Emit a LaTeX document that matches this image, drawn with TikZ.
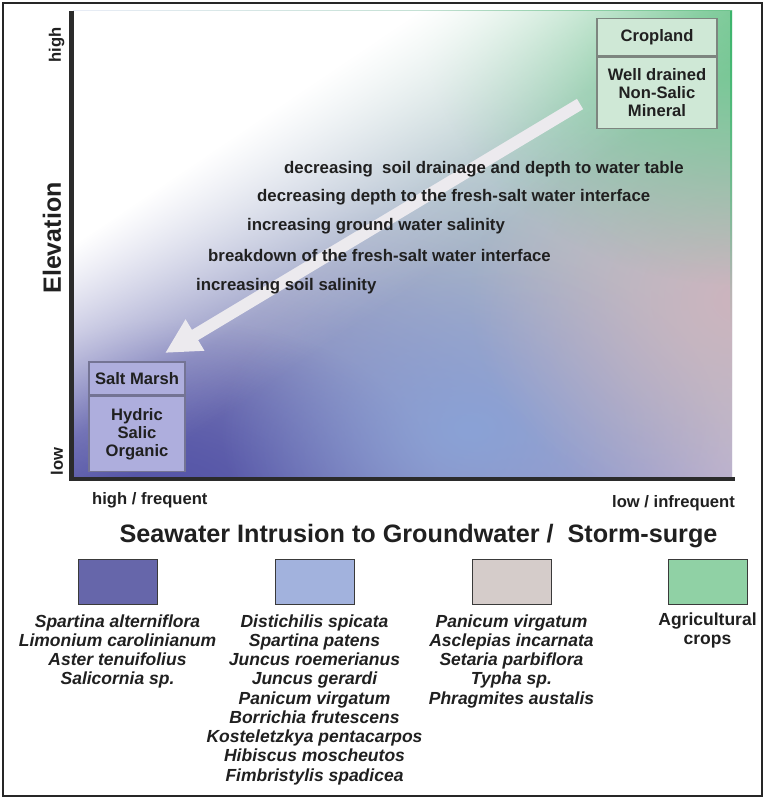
\documentclass[tikz,border=0pt]{standalone}
\usepackage{fontspec}
\setmainfont{Liberation Sans}
\usetikzlibrary{fadings,shadings,arrows.meta}

\definecolor{plUL}{HTML}{E8ECF6}
\definecolor{plUR}{HTML}{A4D6B6}
\definecolor{plLL}{HTML}{5252A4}
\definecolor{plLR}{HTML}{B8B2D2}
\definecolor{darkc}{HTML}{5656A8}
\definecolor{pinkc}{HTML}{CDB4BE}
\definecolor{lbluec}{HTML}{8AA2D6}
\definecolor{greenc}{HTML}{6CC48C}
\definecolor{greenline}{HTML}{3CB46C}
\definecolor{arrowc}{HTML}{ECEAEE}
\definecolor{cropfill}{HTML}{CFE8D6}
\definecolor{cropdraw}{HTML}{7D857F}
\definecolor{marshfill}{HTML}{AEAEDD}
\definecolor{marshdraw}{HTML}{747494}
\definecolor{axisc}{HTML}{2B2B2B}
\definecolor{txtc}{HTML}{202020}
\definecolor{lg1}{HTML}{6666AA}
\definecolor{lg2}{HTML}{A2B2DD}
\definecolor{lg3}{HTML}{D5CCCA}
\definecolor{lg4}{HTML}{90D1A5}
\definecolor{legdraw}{HTML}{3A3A3A}

\pgfdeclarehorizontalshading{wfsh}{100bp}{color(0bp)=(white); color(30bp)=(white); color(37bp)=(black!50); color(42bp)=(black!85); color(47bp)=(black); color(100bp)=(black)}
\pgfdeclarefading{wfade}{\pgfuseshading{wfsh}}
\tikzfading[name=blobfade, inner color=transparent!0, outer color=transparent!100]
\tikzfading[name=fadedown, top color=transparent!0, bottom color=transparent!100]

\tikzset{
  midtxt/.style={font=\fontsize{16.8}{18}\selectfont\bfseries, text=txtc, inner sep=0pt, anchor=base west},
  axtxt/.style={font=\fontsize{16.6}{18}\selectfont\bfseries, text=txtc, inner sep=0pt},
  boxtxt/.style={font=\fontsize{16.6}{18}\selectfont\bfseries, text=txtc, inner sep=0pt, align=center},
  legtxt/.style={font=\fontsize{17.5}{19.25}\selectfont\bfseries\itshape, text=txtc, inner sep=0pt, anchor=base},
  legbox/.style={draw=legdraw, line width=1.3pt, minimum width=79pt, minimum height=45pt, inner sep=0pt, anchor=north west},
  cropbox/.style={boxtxt, draw=cropdraw, fill=cropfill, line width=1.5pt, minimum width=120pt, anchor=north},
  marshbox/.style={boxtxt, draw=marshdraw, fill=marshfill, line width=1.5pt, minimum width=96pt, anchor=north},
  axisline/.style={draw=axisc, line width=4.5pt},
  bigarrow/.style={draw=arrowc, line width=12pt, -{Triangle[length=35pt,width=34pt]}, color=arrowc},
}

\begin{document}
\begin{tikzpicture}[x=1pt,y=-1pt]
\useasboundingbox (0,0) rectangle (765,800);
\fill[white] (0,0) rectangle (765,800);
\draw[line width=1.3pt, black!85] (3,3) rectangle (762,796);

% ---- gradient field ----
\begin{scope}
  \clip (73,11) rectangle (732,477);
  \shade[upper left=plUL, upper right=plUR, lower left=plLL, lower right=plLR] (73,11) rectangle (732,477);
  \fill[darkc, path fading=blobfade] (180,490) ellipse [x radius=260pt, y radius=170pt];
  \fill[lbluec, path fading=blobfade] (470,430) ellipse [x radius=250pt, y radius=180pt];
  \fill[pinkc, path fading=blobfade] (740,300) ellipse [x radius=270pt, y radius=220pt];
  \fill[greenc, path fading=blobfade] (740,5) ellipse [x radius=320pt, y radius=280pt];
  \fill[white, path fading=wfade, fading angle=-56] (73,11) rectangle (736,674);
  \fill[greenline, path fading=fadedown] (729.5,11) rectangle (732,330);
\end{scope}

% ---- axes ----
\coordinate (ytop) at (71.5,11);
\coordinate (ybot) at (71.5,481);
\coordinate (xleft) at (69,479);
\coordinate (xright) at (735,479);
\draw[axisline] (ytop) -- (ybot);
\draw[axisline] (xleft) -- (xright);

% ---- arrow ----
\coordinate (aS) at (580,104);
\coordinate (aE) at (165,353);
\draw[bigarrow] (aS) -- (aE);

% ---- boxes ----
\node[cropbox, minimum height=37pt] (cropT) at (657,18) {Cropland};
\node[cropbox, minimum height=71pt] (cropB) at (cropT.south) {Well drained\\Non-Salic\\Mineral};
\node[marshbox, minimum height=33pt] (marshT) at (137,361) {Salt Marsh};
\node[marshbox, minimum height=75pt] (marshB) at (marshT.south) {Hydric\\Salic\\Organic};

% ---- middle texts ----
\node[midtxt] (t1) at (284,173.3) {decreasing\ \ soil drainage and depth to water table};
\node[midtxt] (t2) at (257,201.7) {decreasing depth to the fresh-salt water interface};
\node[midtxt] (t3) at (247,230.7) {increasing ground water salinity};
\node[midtxt] (t4) at (208,261.7) {breakdown of the fresh-salt water interface};
\node[midtxt] (t5) at (196,290) {increasing soil salinity};

% ---- axis labels ----
\node[axtxt, rotate=90, font=\fontsize{25}{28}\selectfont\bfseries] (elev) at (52,238) {Elevation};
\node[axtxt, rotate=90] (hi) at (56.5,45) {high};
\node[axtxt, rotate=90] (lo) at (57,461.5) {low};
\node[axtxt, anchor=base west] (hf) at (92,504) {high / frequent};
\node[axtxt, anchor=base east] (lf) at (735,507.5) {low / infrequent};
\node[axtxt, anchor=base, font=\fontsize{25.2}{28}\selectfont\bfseries] (xl) at (418.5,542) {Seawater Intrusion to Groundwater /\ \ Storm-surge};

% ---- legend ----
\node[legbox, fill=lg1] (b1) at (78,559) {};
\node[legbox, fill=lg2] (b2) at (275,559) {};
\node[legbox, fill=lg3] (b3) at (472,559) {};
\node[legbox, fill=lg4] (b4) at (668,559) {};

\foreach \t [count=\i] in {Spartina alterniflora, Limonium carolinianum, Aster tenuifolius, Salicornia sp.}
  \node[legtxt] (ca\i) at (117.5,{627+19.25*(\i-1)}) {\t};
\foreach \t [count=\i] in {Distichilis spicata, Spartina patens, Juncus roemerianus, Juncus gerardi, Panicum virgatum, Borrichia frutescens, Kosteletzkya pentacarpos, Hibiscus moscheutos, Fimbristylis spadicea}
  \node[legtxt] (cb\i) at (314.5,{627+19.25*(\i-1)}) {\t};
\foreach \t [count=\i] in {Panicum virgatum, Asclepias incarnata, Setaria parbiflora, Typha sp., Phragmites austalis}
  \node[legtxt] (cc\i) at (511.5,{627+19.25*(\i-1)}) {\t};
\node[legtxt, font=\fontsize{17.5}{19.25}\selectfont\bfseries] (cd1) at (707.5,625) {Agricultural};
\node[legtxt, font=\fontsize{17.5}{19.25}\selectfont\bfseries] (cd2) at (707.5,644) {crops};
\end{tikzpicture}
\end{document}
